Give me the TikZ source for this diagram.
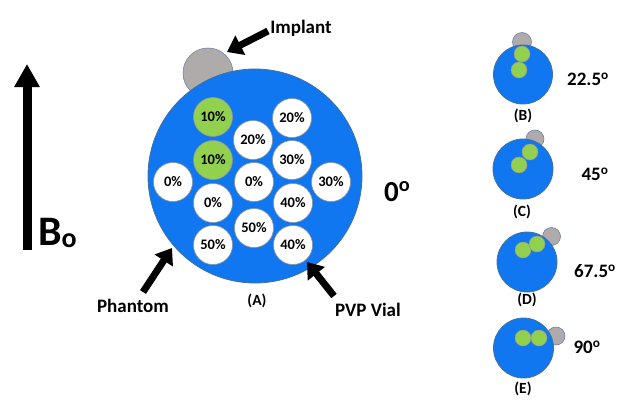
\documentclass[tikz,border=0pt]{standalone}
\usepackage{fontspec}
\setmainfont{Carlito}
\usetikzlibrary{arrows.meta}
\definecolor{phblue}{RGB}{17,119,240}
\definecolor{phedge}{RGB}{65,113,156}
\definecolor{vgreen}{RGB}{146,208,80}
\definecolor{vedge}{RGB}{150,150,150}
\definecolor{implgray}{RGB}{175,171,171}
\definecolor{impledge}{RGB}{110,130,165}
\tikzset{
  phantom/.style={circle,fill=phblue,draw=phedge,line width=0.8pt,inner sep=0pt},
  vial/.style={circle,fill=white,draw=vedge,line width=0.6pt,minimum size=39pt,inner sep=0pt,font=\fontsize{14.5}{14.5}\selectfont\bfseries},
  gvial/.style={vial,fill=vgreen},
  svial/.style={circle,fill=vgreen,draw=vedge,line width=0.5pt,minimum size=16pt,inner sep=0pt},
  implant/.style={circle,fill=implgray,draw=impledge,line width=0.6pt,inner sep=0pt},
  lbl/.style={font=\fontsize{19}{19}\selectfont\bfseries,inner sep=0pt},
  sublbl/.style={font=\fontsize{15.5}{15.5}\selectfont\bfseries,inner sep=0pt},
  anglbl/.style={font=\fontsize{19}{19}\selectfont\bfseries,inner sep=0pt},
  blockarrow/.style={line width=7pt,-{Triangle[length=15pt,width=21pt]}},
}
\begin{document}
\begin{tikzpicture}[x=1pt,y=-1pt]
\useasboundingbox (0,0) rectangle (624,405);
% main phantom
\node[implant,minimum size=50pt] (imp) at (208,73) {};
\node[phantom,minimum size=214pt] (ph) at (255,176) {};
\node[gvial] (v1) at (213,117) {10\%};
\node[vial] (v2) at (292,118) {20\%};
\node[vial] (v3) at (253,140) {20\%};
\node[gvial] (v4) at (213,160) {10\%};
\node[vial] (v5) at (292,160) {30\%};
\node[vial] (v6) at (173,182) {0\%};
\node[vial] (v7) at (254,182) {0\%};
\node[vial] (v8) at (331,182) {30\%};
\node[vial] (v9) at (213,203) {0\%};
\node[vial] (v10) at (293,203) {40\%};
\node[vial] (v11) at (254,228) {50\%};
\node[vial] (v12) at (213,245) {50\%};
\node[vial] (v13) at (293,245) {40\%};
% labels
\node[lbl] (limp) at (301,28) {Implant};
\node[lbl] (lph) at (133,306) {Phantom};
\node[lbl] (lpvp) at (368,310) {PVP Vial};
\node[sublbl] (la) at (257,301) {(A)};
\node[font=\fontsize{29}{29}\selectfont\bfseries,inner sep=0pt,anchor=base west] (zero) at (384,201) {0\textsuperscript{o}};
\node[font=\fontsize{42}{42}\selectfont\bfseries,inner sep=0pt,anchor=base west] (b0) at (38,245) {B\raisebox{-2.5pt}{\fontsize{28}{28}\selectfont o}};
% arrows
\coordinate (impT) at (268,31);
\coordinate (impH) at (227,52);
\draw[blockarrow] (impT) -- (impH);
\coordinate (phT) at (143,292);
\coordinate (phH) at (172,248);
\draw[blockarrow] (phT) -- (phH);
\coordinate (pvT) at (334,296);
\coordinate (pvH) at (307,262);
\draw[blockarrow] (pvT) -- (pvH);
\coordinate (bT) at (27,250);
\coordinate (bH) at (27,64);
\draw[line width=9pt,-{Triangle[length=23pt,width=24pt]}] (bT) -- (bH);
% small phantoms
\node[implant,minimum size=19pt] (impB) at (522,42) {};
\node[phantom,minimum size=59pt] (phB) at (523,74.5) {};
\node[svial] (gB1) at (522,54) {};
\node[svial] (gB2) at (519,70) {};
\node[sublbl] (lB) at (523,116) {(B)};
\node[anglbl] (aB) at (588,79) {22.5\textsuperscript{o}};

\node[implant,minimum size=18pt] (impC) at (535,139) {};
\node[phantom,minimum size=60pt] (phC) at (523,169) {};
\node[svial] (gC1) at (530,152) {};
\node[svial] (gC2) at (519,165) {};
\node[sublbl] (lC) at (522,212) {(C)};
\node[anglbl] (aC) at (595,174) {45\textsuperscript{o}};

\node[implant,minimum size=18pt] (impD) at (551.5,236.5) {};
\node[phantom,minimum size=60pt] (phD) at (527,262) {};
\node[svial] (gD1) at (523,250) {};
\node[svial] (gD2) at (537,244) {};
\node[sublbl] (lD) at (527,300) {(D)};
\node[anglbl] (aD) at (595,271) {67.5\textsuperscript{o}};

\node[implant,minimum size=18pt] (impE) at (556,336) {};
\node[phantom,minimum size=60pt] (phE) at (523.5,348) {};
\node[svial] (gE1) at (523,338) {};
\node[svial] (gE2) at (539,338) {};
\node[sublbl] (lE) at (523,389) {(E)};
\node[anglbl] (aE) at (587,347) {90\textsuperscript{o}};
\end{tikzpicture}
\end{document}
